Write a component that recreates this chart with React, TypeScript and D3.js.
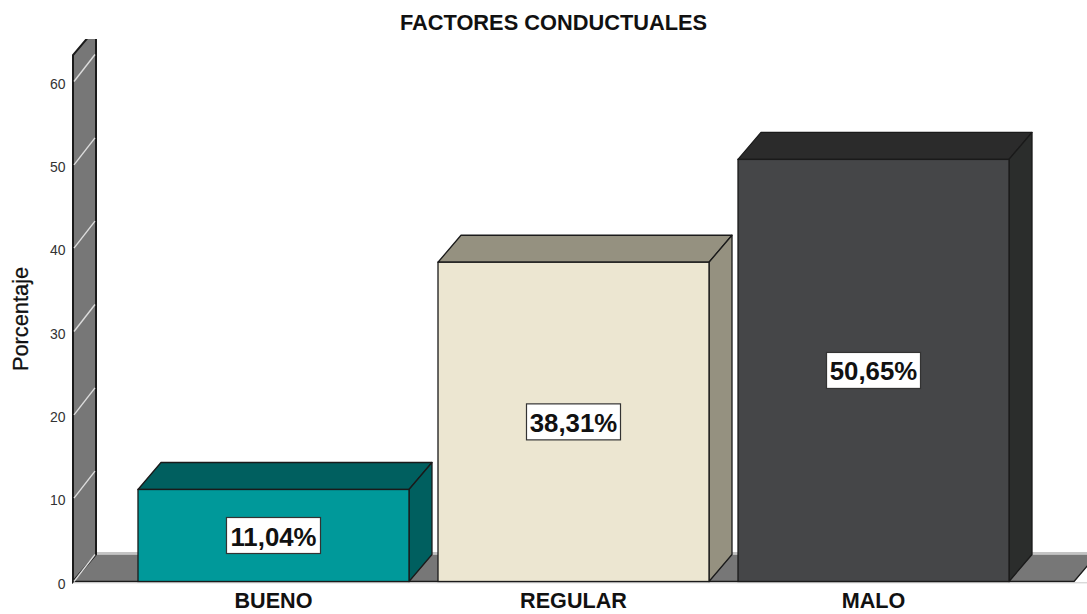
import React from "react";
import * as d3 from "d3";

const title = "FACTORES CONDUCTUALES";
const yAxisLabel = "Porcentaje";
const categories = ["BUENO", "REGULAR", "MALO"];
const values = [11.04, 38.31, 50.65];
const valueLabels = ["11,04%", "38,31%", "50,65%"];
const tickValues = [0, 10, 20, 30, 40, 50, 60];
const frontColors = ["#00999a", "#ece6d1", "#454648"];
const topColors = ["#005f5f", "#959180", "#2b2b2b"];
const sideColors = ["#005f5f", "#959180", "#2b2d2c"];

const W = 1087, H = 614;
const dx = 23, dy = 27;
const y = d3.scaleLinear().domain([0, 60]).range([581.5, 81.5]);
const x = d3.scaleBand<string>().domain(categories).range([123.5, 1023.5]).paddingInner(0.0967).paddingOuter(0.0483);
const line = d3.line();
const font = "'Liberation Sans', Arial, sans-serif";
const stroke = "#1a1a1a";
const poly = (pts: [number, number][]) => line(pts) + "Z";

export default function App() {
  const x0 = 73, xR = 1097;
  const wallTop = 55;
  const bw = x.bandwidth();
  return (
    <svg width={W} height={H} viewBox={`0 0 ${W} ${H}`} style={{ position: "absolute", left: 0, top: 0, background: "#fff" }}>
      <defs>
        <clipPath id="c"><rect x={0} y={39} width={W} height={H - 39} /></clipPath>
      </defs>
      <text x={553.5} y={30} textAnchor="middle" fontFamily={font} fontWeight={700} fontSize={21.8} fill="#111">{title}</text>
      <g clipPath="url(#c)">
        <line x1={x0 + dx} x2={W} y1={y(0) - dy - 1.5} y2={y(0) - dy - 1.5} stroke="#c4c4c4" strokeWidth={2} />
        <path d={poly([[x0, y(0)], [xR - dx, y(0)], [xR, y(0) - dy], [x0 + dx, y(0) - dy]])} fill="#777777" stroke="none" />
        <path d={line([[x0, y(0)], [xR - dx, y(0)], [xR, y(0) - dy]]) as string} fill="none" stroke={stroke} strokeWidth={1.3} />
        <line x1={x0} x2={W} y1={y(0) + 1.3} y2={y(0) + 1.3} stroke="#c9c9c9" strokeWidth={1} />
        <path d={poly([[x0, y(0)], [x0, wallTop], [x0 + dx, wallTop - dy], [x0 + dx, y(0) - dy]])} fill="#777777" stroke={stroke} strokeWidth={2} />
        {tickValues.map(t => (
          <line key={t} x1={x0 + 1} y1={y(t)} x2={x0 + dx - 1} y2={y(t) - dy} stroke="#dddddd" strokeWidth={1.4} />
        ))}
      </g>
      {tickValues.map(t => (
        <text key={t} x={65.5} y={y(t) + 7} textAnchor="end" fontFamily={font} fontSize={14} fill="#333">{t}</text>
      ))}
      <text transform="translate(28,319) rotate(-90)" textAnchor="middle" fontFamily={font} fontSize={21.8} stroke="#111" strokeWidth={0.3} fill="#111">{yAxisLabel}</text>
      {categories.map((c, i) => {
        const l = x(c)!, r = l + bw, top = y(values[i]), b = y(0);
        const sw = 1.3;
        return (
          <g key={c}>
            <path d={poly([[l, top], [l + dx, top - dy], [r + dx, top - dy], [r, top]])} fill={topColors[i]} stroke={stroke} strokeWidth={sw} strokeLinejoin="round" />
            <path d={poly([[r, top], [r + dx, top - dy], [r + dx, b - dy], [r, b]])} fill={sideColors[i]} stroke={stroke} strokeWidth={sw} strokeLinejoin="round" />
            <rect x={l} y={top} width={bw} height={b - top} fill={frontColors[i]} stroke={stroke} strokeWidth={sw} />
          </g>
        );
      })}
      {categories.map((c, i) => {
        const cx = x(c)! + bw / 2, cy = (y(values[i]) + y(0)) / 2;
        return (
          <g key={c}>
            <rect x={cx - 47} y={cy - 18} width={94} height={36} fill="#fff" stroke="#333" strokeWidth={1.2} />
            <text x={cx} y={cy + 10} textAnchor="middle" fontFamily={font} fontWeight={700} fontSize={25.8} fill="#111">{valueLabels[i]}</text>
            <text x={cx} y={607.5} textAnchor="middle" fontFamily={font} fontWeight={700} fontSize={21.6} fill="#111">{c}</text>
          </g>
        );
      })}
    </svg>
  );
}
